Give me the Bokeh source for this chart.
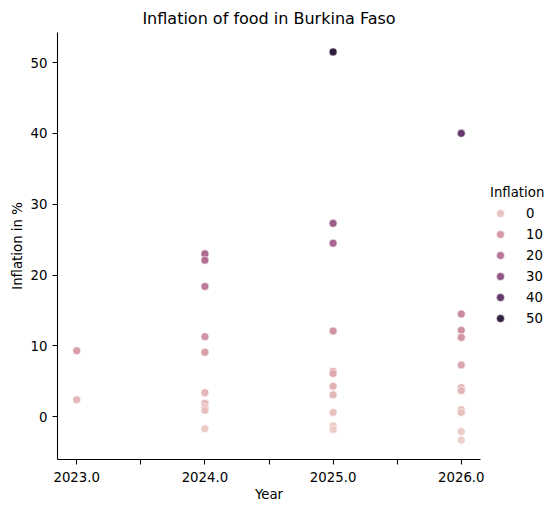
import numpy as np
from bokeh.plotting import figure
from bokeh.layouts import row
from bokeh.models import ColumnDataSource, FixedTicker, Legend, LegendItem, Range1d
from bokeh.embed import file_html
from bokeh.resources import INLINE

# ---- data ----
year = [2023, 2023,
        2024, 2024, 2024, 2024, 2024, 2024, 2024, 2024, 2024, 2024,
        2025, 2025, 2025, 2025, 2025, 2025, 2025, 2025, 2025, 2025, 2025,
        2026, 2026, 2026, 2026, 2026, 2026, 2026, 2026, 2026, 2026, 2026]
inflation = [9.3, 2.4,
             23.0, 22.1, 18.4, 11.3, 9.1, 3.4, 1.9, 1.3, 0.9, -1.7,
             51.5, 27.3, 24.5, 12.1, 6.4, 6.1, 4.3, 3.1, 0.6, -1.3, -1.8,
             40.0, 14.5, 12.2, 11.2, 7.3, 4.1, 3.7, 1.0, 0.6, -2.1, -3.3]
legend_levels = [0, 10, 20, 30, 40, 50]
x_ticks = [2023, 2023.5, 2024, 2024.5, 2025, 2025.5, 2026]
y_ticks = [0, 10, 20, 30, 40, 50]

# ---- seaborn default cubehelix ("ch:") colormap ----
def cubehelix(x, start=0.0, rot=0.4, gamma=1.0, hue=0.8):
    xg = x ** gamma
    a = hue * xg * (1 - xg) / 2
    phi = 2 * np.pi * (start / 3 + rot * x)
    r = xg + a * (-0.14861 * np.cos(phi) + 1.78277 * np.sin(phi))
    g = xg + a * (-0.29227 * np.cos(phi) - 0.90649 * np.sin(phi))
    b = xg + a * (1.97294 * np.cos(phi))
    return [float(np.clip(c, 0, 1)) for c in (r, g, b)]

vmin, vmax = min(inflation), max(inflation)

def color_for(v, light=0.85, dark=0.15):
    t = (v - vmin) / (vmax - vmin)
    t = min(max(t, 0.0), 1.0)
    x = light + (dark - light) * t
    r, g, b = cubehelix(x)
    return "#%02x%02x%02x" % (int(round(r * 255)), int(round(g * 255)), int(round(b * 255)))

colors = [color_for(v) for v in inflation]
src = ColumnDataSource(dict(year=year, inflation=inflation, color=colors))

FONT = "DejaVu Sans"
H = 512

p = figure(width=488, height=H, output_backend="svg", toolbar_location=None,
           x_range=(2022.85, 2026.15), y_range=(-6.04, 54.24),
           min_border_left=57, min_border_right=8, min_border_top=32,
           min_border_bottom=53)
p.title.text = "Inflation of food in Burkina Faso"
p.title.text_font = FONT
p.title.text_font_size = "16px"
p.title.text_font_style = "normal"
p.title.align = "center"
p.title.text_color = "black"
p.title.standoff = 9

p.outline_line_color = None
p.xgrid.visible = False
p.ygrid.visible = False
p.background_fill_color = "white"
p.border_fill_color = "white"

for ax in (p.xaxis[0], p.yaxis[0]):
    ax.axis_line_color = "black"
    ax.axis_line_width = 1.07
    ax.major_tick_line_color = "black"
    ax.major_tick_line_width = 1.07
    ax.major_tick_out = 5
    ax.major_tick_in = 0
    ax.minor_tick_line_color = None
    ax.major_label_text_font = FONT
    ax.major_label_text_font_size = "13.3px"
    ax.major_label_text_color = "black"
    ax.axis_label_text_font = FONT
    ax.axis_label_text_font_size = "13.3px"
    ax.axis_label_text_font_style = "normal"
    ax.axis_label_text_color = "black"
    ax.major_label_standoff = 5

p.xaxis.ticker = FixedTicker(ticks=x_ticks)
overrides = {}
for t in x_ticks:
    overrides[t] = ("%.1f" % t) if float(t).is_integer() else ""
p.xaxis.major_label_overrides = overrides
p.xaxis.axis_label = "Year"
p.xaxis.major_label_standoff = 7
p.xaxis.axis_label_standoff = 2

p.yaxis.ticker = FixedTicker(ticks=y_ticks)
p.yaxis.axis_label = "Inflation in %"
p.yaxis.axis_label_standoff = 3

p.scatter("year", "inflation", source=src, size=8, fill_color="color",
          line_color="white", line_width=0.6)

# ---- legend panel (separate narrow figure to the right) ----
# the legend renderers hold one sample point per level, kept outside the visible range
q = figure(width=557 - 488, height=H, output_backend="svg", toolbar_location=None,
           x_axis_type=None, y_axis_type=None, min_border=0,
           x_range=Range1d(1000, 1001), y_range=Range1d(1000, 1001))
q.outline_line_color = None
q.xgrid.visible = False
q.ygrid.visible = False
q.background_fill_color = "white"
q.border_fill_color = "white"

items = []
for lv in legend_levels:
    r = q.scatter([lv], [lv], size=8, fill_color=color_for(lv), line_color="white", line_width=0.6)
    items.append(LegendItem(label=str(lv), renderers=[r]))

legend = Legend(items=items, location=(2, 131), title="Inflation")
legend.title_text_font = FONT
legend.title_text_font_size = "13.3px"
legend.title_text_font_style = "normal"
legend.title_text_color = "black"
legend.title_standoff = 3
legend.label_text_font = FONT
legend.label_text_font_size = "13.3px"
legend.label_text_color = "black"
legend.border_line_color = None
legend.background_fill_alpha = 0
legend.margin = 0
legend.padding = 2
legend.spacing = 1
legend.glyph_width = 20
legend.glyph_height = 20
legend.label_height = 20
legend.label_standoff = 16
q.add_layout(legend, "center")

layout = row(p, q, spacing=0)
open("out.html", "w").write(file_html(layout, INLINE))
